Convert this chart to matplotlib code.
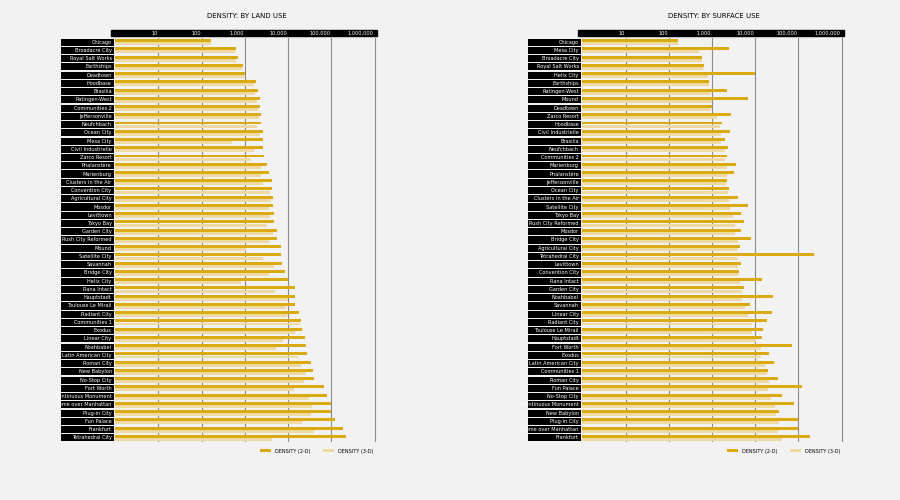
import matplotlib
matplotlib.use("Agg")
import matplotlib.pyplot as plt
import numpy as np
from matplotlib.patches import Rectangle
from matplotlib.transforms import blended_transform_factory

# log10 of density
LAND_CITIES = ["Chicago", "Broadacre City", "Royal Salt Works", "Earthships", "Deadtown", "Hoodbase",
               "Brasilia", "Ratingen-West", "Communities 2", "Jeffersonville", "Neufchbach", "Ocean City",
               "Mesa City", "Civil Industrielle", "Zarco Resort", "Phalanstère", "Marienburg",
               "Clusters in the Air", "Convention City", "Agricultural City", "Mosdor", "Levittown",
               "Tokyo Bay", "Garden City", "Rush City Reformed", "Mound", "Satellite City", "Savannah",
               "Bridge City", "Helix City", "Rana Intact", "Hauptstadt", "Toulouse Le Mirail",
               "Radiant City", "Communities 1", "Exodus", "Linear City", "Noahbabel",
               "Latin American City", "Roman City", "New Babylon", "No-Stop City", "Fort Worth",
               "Continuous Monument", "Dome over Manhattan", "Plug-in City", "Fun Palace", "Frankfurt",
               "Tetrahedral City"]
LAND_2D = [2.22, 2.80, 2.83, 2.95, 3.00, 3.26, 3.30, 3.34, 3.36, 3.37, 3.37, 3.41,
           3.41, 3.41, 3.44, 3.51, 3.55, 3.62, 3.62, 3.65, 3.66, 3.67, 3.68, 3.74, 3.74,
           3.83, 3.84, 3.86, 3.92, 3.99, 4.16, 4.16, 4.17, 4.26, 4.29, 4.33, 4.39, 4.41,
           4.44, 4.52, 4.57, 4.61, 4.84, 4.91, 4.99, 4.99, 5.09, 5.26, 5.35]
LAND_3D = [2.22, 2.76, 2.80, 2.93, 2.97, 3.21, 3.24, 3.28, 3.31, 3.33, 3.29, 3.34,
           2.70, 3.21, 3.13, 3.37, 3.37, 3.41, 3.58, 3.60, 3.55, 3.58, 3.52, 3.66, 3.55,
           3.02, 3.43, 3.68, 3.56, 2.90, 3.69, 4.00, 3.94, 3.97, 4.28, 4.16, 3.89, 3.73,
           4.24, 4.31, 4.42, 4.36, 4.14, 4.48, 4.55, 4.54, 4.32, 4.60, 3.62]

SURF_CITIES = ["Chicago", "Mesa City", "Broadacre City", "Royal Salt Works", "Helix City", "Earthships",
               "Ratingen-West", "Mound", "Deadtown", "Zarco Resort", "Hoodbase", "Civil Industrielle",
               "Brasilia", "Neufchbach", "Communities 2", "Marienburg", "Phalanstère", "Jeffersonville",
               "Ocean City", "Clusters in the Air", "Satellite City", "Tokyo Bay", "Rush City Reformed",
               "Mosdor", "Bridge City", "Agricultural City", "Tetrahedral City", "Levittown",
               "Convention City", "Rana Intact", "Garden City", "Noahbabel", "Savannah", "Linear City",
               "Radiant City", "Toulouse Le Mirail", "Hauptstadt", "Fort Worth", "Exodus",
               "Latin American City", "Communities 1", "Roman City", "Fun Palace", "No-Stop City",
               "Continuous Monument", "New Babylon", "Plug-in City", "Dome over Manhattan", "Frankfurt"]
SURF_2D = [2.21, 3.40, 2.78, 2.82, 3.99, 2.93, 3.34, 3.83, 3.00, 3.43, 3.24, 3.41, 3.30,
           3.36, 3.34, 3.56, 3.50, 3.35, 3.40, 3.61, 3.84, 3.67, 3.74, 3.66, 3.90, 3.64,
           5.35, 3.66, 3.63, 4.15, 3.74, 4.41, 3.87, 4.38, 4.27, 4.17, 4.15, 4.84, 4.33,
           4.44, 4.29, 4.52, 5.09, 4.62, 4.90, 4.56, 4.99, 4.99, 5.26]
SURF_3D = [2.21, 2.69, 2.76, 2.80, 2.90, 2.92, 2.97, 2.99, 2.98, 3.12, 3.19, 3.21, 3.22,
           3.30, 3.30, 3.34, 3.35, 3.33, 3.37, 3.40, 3.42, 3.49, 3.53, 3.54, 3.61, 3.61,
           3.61, 3.60, 3.61, 3.65, 3.70, 3.70, 3.76, 3.84, 3.92, 3.93, 4.01, 4.13, 4.13,
           4.22, 4.27, 4.31, 4.30, 4.37, 4.46, 4.48, 4.54, 4.52, 4.63]

DARK = "#dbaa12"
LIGHT = "#eed9a3"
BG = "#f2f2f2"
TICKS = [10, 100, 1000, 10000, 100000, 1000000]


def panel(fig, x0, title, cities, d2, d3):
    n = len(cities)
    y = np.arange(n)
    ax = fig.add_axes([x0, 0.116, 0.292, 0.808])
    ax.set_facecolor(BG)
    ax.barh(y - 0.19, 10 ** np.array(d2), height=0.36, left=1, color=DARK, zorder=3, label="DENSITY (2-D)")
    ax.barh(y + 0.19, 10 ** np.array(d3), height=0.36, left=1, color=LIGHT, zorder=3, label="DENSITY (3-D)")
    ax.set_xscale("log")
    ax.set_xlim(1, 10 ** 6.08)
    ax.set_ylim(n - 0.5, -0.5)
    ax.set_yticks([])
    ax.xaxis.set_major_locator(matplotlib.ticker.FixedLocator(TICKS))
    ax.xaxis.set_minor_locator(matplotlib.ticker.LogLocator(base=10, subs=np.arange(2, 10)))
    ax.grid(True, which="major", axis="x", color="#8a8a8a", lw=0.8, zorder=1)
    ax.grid(True, which="minor", axis="x", color="#bdbdbd", lw=0.6, zorder=1)
    ax.tick_params(which="both", length=0, labelbottom=False)
    for s in ax.spines.values():
        s.set_visible(False)

    # black band with tick labels on top
    tr = blended_transform_factory(ax.transData, ax.transAxes)
    ax.add_patch(Rectangle((0.985, 1.002), 0.0, 0.016, transform=ax.transAxes, clip_on=False))
    band = Rectangle((-0.015, 1.004), 1.01, 0.017, transform=ax.transAxes,
                     color="black", clip_on=False, zorder=5)
    ax.add_patch(band)
    for t in TICKS:
        ax.text(t * 0.95, 1.012, f"{t:,}", transform=tr, ha="right", va="center",
                color="white", fontsize=3.6, zorder=6, clip_on=False)
    ax.text(0.5, 1.055, title, transform=ax.transAxes, ha="center", va="center", fontsize=5)

    # black name boxes at left
    lab = fig.add_axes([x0 - 0.0605, 0.116, 0.059, 0.808])
    lab.barh(y, 1, height=0.86, color="black")
    lab.set_xlim(0, 1)
    lab.set_ylim(n - 0.5, -0.5)
    lab.axis("off")
    for i, c in enumerate(cities):
        lab.text(0.96, i, c, ha="right", va="center", color="white", fontsize=3.6)

    ax.legend(loc="upper right", bbox_to_anchor=(1.0, -0.005), ncol=2, frameon=False,
              fontsize=3.6, handlelength=2.2, handleheight=0.6, columnspacing=2.5)
    return ax


fig = plt.figure(figsize=(9, 5), dpi=100, facecolor=BG)
panel(fig, 0.128, "DENSITY: BY LAND USE", LAND_CITIES, LAND_2D, LAND_3D)
panel(fig, 0.647, "DENSITY: BY SURFACE USE", SURF_CITIES, SURF_2D, SURF_3D)
fig.savefig("out.png", dpi=100, facecolor=BG)
